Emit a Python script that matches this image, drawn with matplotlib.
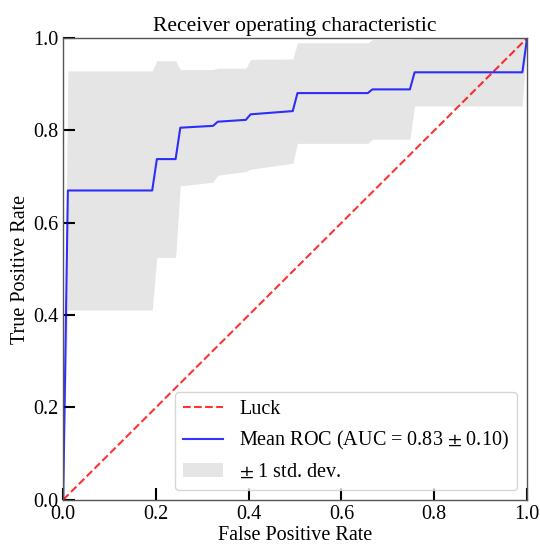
import numpy as np
import matplotlib
matplotlib.use("Agg")
import matplotlib.pyplot as plt

plt.rcParams["font.family"] = ["Liberation Serif", "DejaVu Serif"]
plt.rcParams["mathtext.fontset"] = "stix"

# corner points of the averaged ROC curve
mean_fpr = [0.0, 0.0101, 0.1919, 0.2020, 0.2424, 0.2525, 0.3232, 0.3333,
            0.3939, 0.4040, 0.4949, 0.5051, 0.6566, 0.6667, 0.7475, 0.7576,
            0.9899, 1.0]
mean_tpr = [0.0, 0.670, 0.670, 0.738, 0.738, 0.806, 0.810, 0.819,
            0.823, 0.835, 0.842, 0.881, 0.881, 0.889, 0.889, 0.926,
            0.926, 1.0]
std_tpr = [0.0, 0.259, 0.259, 0.213, 0.213, 0.126, 0.122, 0.116,
           0.112, 0.119, 0.113, 0.109, 0.109, 0.108, 0.108, 0.073,
           0.073, 0.0]
mean_auc = 0.83
std_auc = 0.10

mean_fpr = np.array(mean_fpr)
mean_tpr = np.array(mean_tpr)
std_tpr = np.array(std_tpr)
tpr_upper = np.minimum(mean_tpr + std_tpr, 1)
tpr_lower = np.maximum(mean_tpr - std_tpr, 0)

fig = plt.figure(figsize=(5.4, 5.45), dpi=100)
ax = fig.add_axes([0.117, 0.083, 0.859, 0.847])

ax.plot([0, 1], [0, 1], linestyle="--", lw=1.5, color="r", label="Luck", alpha=.8)
ax.plot(mean_fpr, mean_tpr, color="b", lw=1.5, alpha=.8,
        label="Mean ROC (AUC = %0.2f $\\pm$ %0.2f)" % (mean_auc, std_auc))
ax.fill_between(mean_fpr, tpr_lower, tpr_upper, color="grey", alpha=.2, lw=0,
                label="$\\pm$ 1 std. dev.")

ax.set_xlim(0, 1)
ax.set_ylim(0, 1)
ax.set_xticks([0, 0.2, 0.4, 0.6, 0.8, 1.0])
ax.set_yticks([0, 0.2, 0.4, 0.6, 0.8, 1.0])
ax.tick_params(direction="in", length=8.5, width=1.5, labelsize=14.5, color="black")
for s in ax.spines.values():
    s.set_color("#555555")
    s.set_linewidth(1.0)

ax.set_xlabel("False Positive Rate", fontsize=14.5, labelpad=2)
ax.set_ylabel("True Positive Rate", fontsize=14.5, labelpad=2)
ax.set_title("Receiver operating characteristic", fontsize=15.5, pad=5)
ax.legend(loc="lower right", fontsize=14.5)

fig.savefig("out.png", dpi=100)
